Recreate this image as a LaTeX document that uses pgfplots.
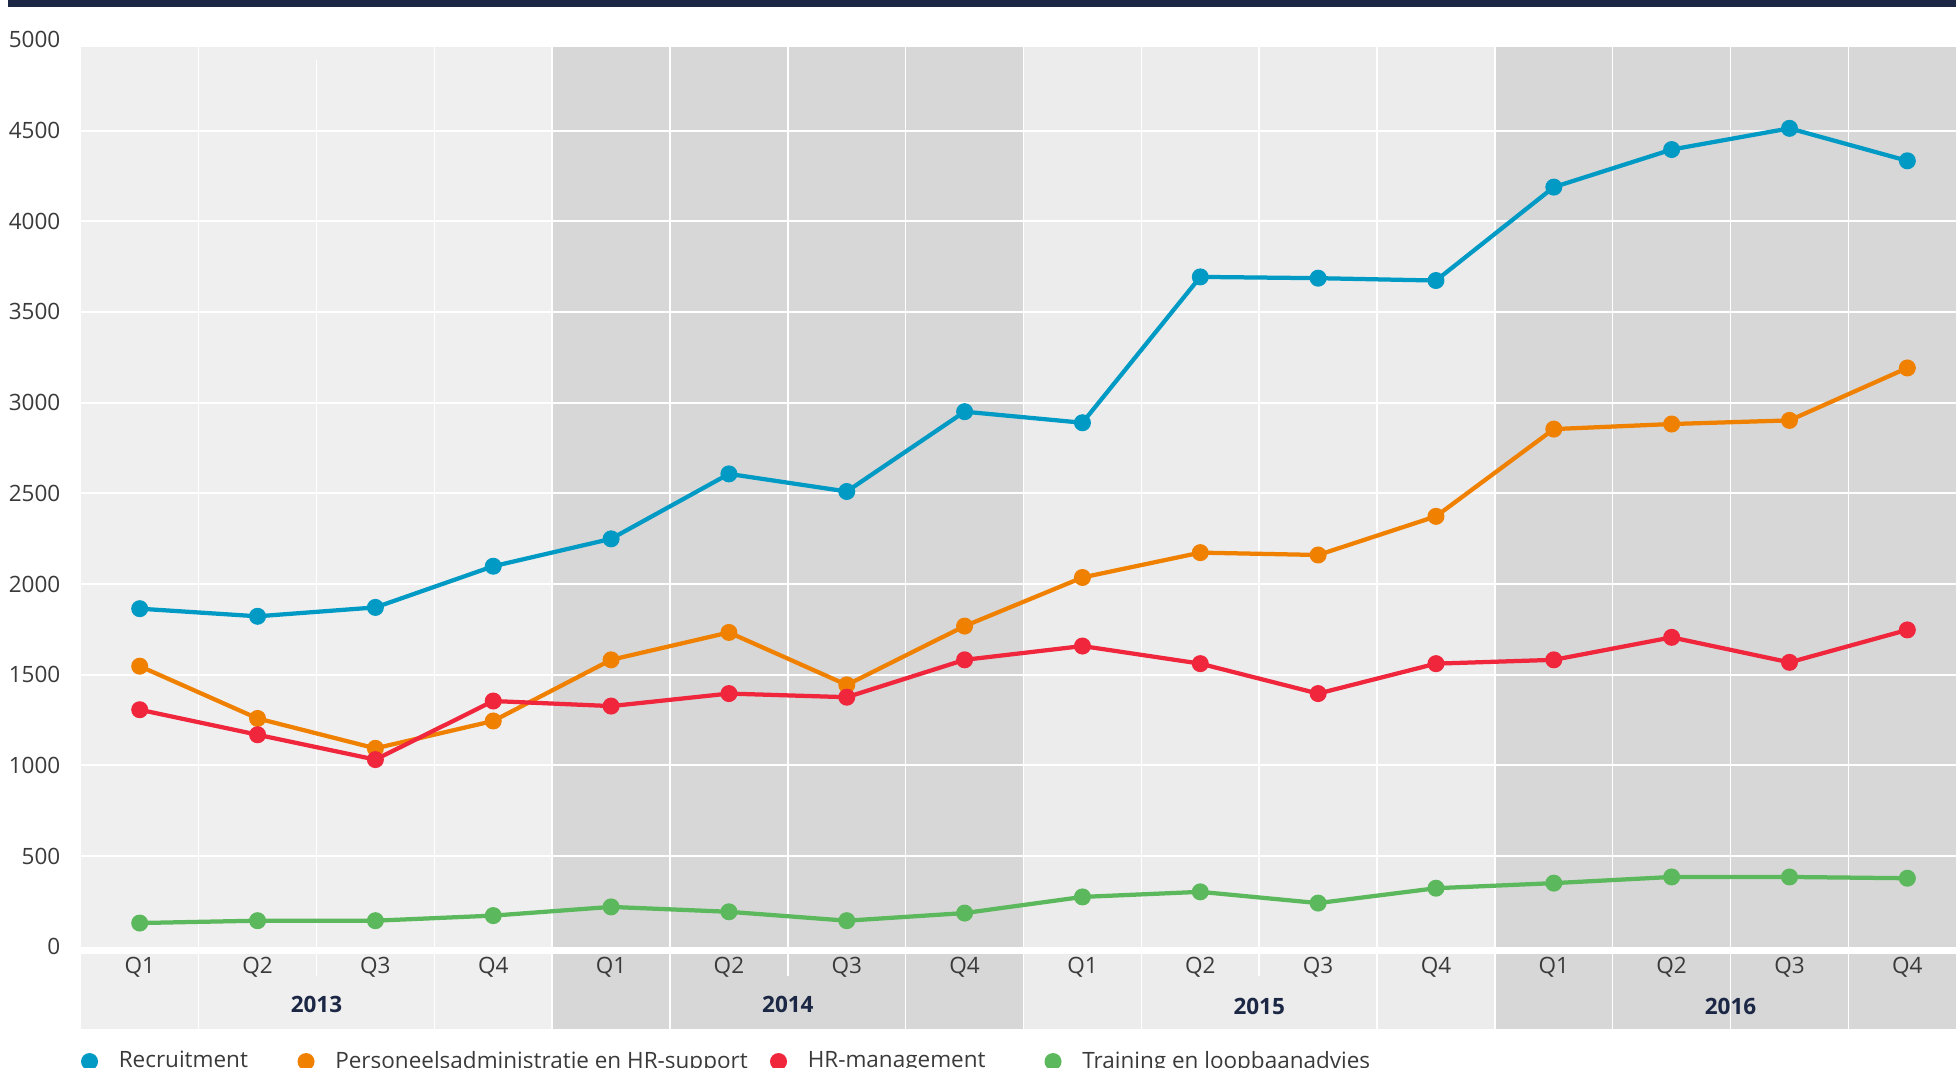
\documentclass[border=0pt]{standalone}
\usepackage{pgfplots}
\usepackage{pgfplotstable}
\pgfplotsset{compat=1.18}
\usepackage{fontspec}
\setmainfont{Open Sans}
\definecolor{cblue}{HTML}{009AC4}
\definecolor{corange}{HTML}{F08000}
\definecolor{cred}{HTML}{F0263C}
\definecolor{cgreen}{HTML}{5CB85C}
\definecolor{bglight}{HTML}{EFEFEF}
\definecolor{bglighttwo}{HTML}{ECECEC}
\definecolor{bgdark}{HTML}{D7D7D7}
\definecolor{navy}{HTML}{1B2744}
\definecolor{txt}{HTML}{3A3A3A}

\pgfplotstableread{
x rec pers hrm train
0 1864 1547 1307 131
1 1822 1259 1169 144
2 1871 1094 1032 144
3 2098 1245 1355 172
4 2249 1582 1327 220
5 2607 1733 1396 193
6 2510 1444 1376 144
7 2950 1768 1582 186
8 2889 2036 1658 275
9 3693 2173 1561 303
10 3686 2160 1396 241
11 3673 2373 1561 323
12 4188 2854 1582 351
13 4395 2882 1706 385
14 4512 2902 1568 385
15 4333 3191 1747 378
}\data

\newcommand{\lfont}{\fontsize{9}{10}\selectfont}

\begin{document}
\begin{tikzpicture}
\begin{axis}[
  at={(0,0)}, anchor=south west,
  scale only axis, width=750.08pt, height=362.8pt,
  xmin=-0.5, xmax=15.413, ymin=0, ymax=5000,
  clip=false, axis on top,
  axis line style={draw=none},
  tick style={draw=none},
  major tick length=0pt,
  ytick={0,500,...,5000},
  /pgf/number format/1000 sep={},
  /pgf/number format/assume math mode=true,
  yticklabel style={font=\lfont, text=txt, anchor=east, inner sep=0pt, xshift=-8pt},
  xtick={0,...,15},
  xticklabels={Q1,Q2,Q3,Q4,Q1,Q2,Q3,Q4,Q1,Q2,Q3,Q4,Q1,Q2,Q3,Q4},
  xticklabel style={font=\lfont, text=txt, anchor=center, inner sep=0pt, yshift=-8pt},
  legend columns=4,
  legend image code/.code={\draw[#1] plot coordinates {(0pt,0pt)};},
  legend style={at={(0,0)}, anchor=west, xshift=0.2pt, yshift=-45.9pt,
    draw=none, fill=none, inner sep=0pt,
    /tikz/every odd column/.style={column sep=8.6pt},
    /tikz/every even column/.style={column sep=0pt},
    nodes={inner sep=0pt, font=\lfont, text=txt}},
]
% plot background bands
\fill[bglight] (axis cs:-0.5,0) rectangle (axis cs:3.5,4960);
\fill[bgdark] (axis cs:3.5,0) rectangle (axis cs:7.5,4960);
\fill[bglighttwo] (axis cs:7.5,0) rectangle (axis cs:11.5,4960);
\fill[bgdark] (axis cs:11.5,0) rectangle (axis cs:15.8,4960);
% label bands
\fill[bglight] (axis cs:-0.5,-41) rectangle (axis cs:3.5,-453);
\fill[bgdark] (axis cs:3.5,-41) rectangle (axis cs:7.5,-453);
\fill[bglighttwo] (axis cs:7.5,-41) rectangle (axis cs:11.5,-453);
\fill[bgdark] (axis cs:11.5,-41) rectangle (axis cs:15.8,-453);
% grid
\pgfplotsinvokeforeach{500,1000,1500,2000,2500,3000,3500,4000,4500}{
  \draw[white, line width=0.8pt] (axis cs:-0.5,#1) -- (axis cs:15.8,#1);
}
\pgfplotsinvokeforeach{0.5,2.5,3.5,4.5,5.5,6.5,7.5,8.5,9.5,10.5,11.5,12.5,13.5,14.5}{
  \draw[white, line width=0.6pt] (axis cs:#1,0) -- (axis cs:#1,4960);
}
\draw[white, line width=0.6pt] (axis cs:1.5,0) -- (axis cs:1.5,4890);
\pgfplotsinvokeforeach{0.5,2.5,3.5,4.5,6.5,7.5,8.5,10.5,11.5,12.5,13.5,14.5}{
  \draw[white, line width=0.6pt] (axis cs:#1,-41) -- (axis cs:#1,-453);
}
\pgfplotsinvokeforeach{1.5,5.5,9.5}{
  \draw[white, line width=0.6pt] (axis cs:#1,-41) -- (axis cs:#1,-160);
}
% year labels
\node[font=\lfont\bfseries, text=navy] at (axis cs:1.5,-316) {2013};
\node[font=\lfont\bfseries, text=navy] at (axis cs:5.5,-316) {2014};
\node[font=\lfont\bfseries, text=navy] at (axis cs:9.5,-330) {2015};
\node[font=\lfont\bfseries, text=navy] at (axis cs:13.5,-330) {2016};

\addplot[cblue, line width=1.7pt, mark=*, mark size=3.1pt, mark options={line width=0.6pt}] table[x=x,y=rec]{\data};
\addlegendentry{\makebox[71.8pt][l]{Recruitment}}
\addplot[corange, line width=1.7pt, mark=*, mark size=3.1pt, mark options={line width=0.6pt}] table[x=x,y=pers]{\data};
\addlegendentry{\makebox[174.2pt][l]{Personeelsadministratie en HR-support}}
\addplot[cred, line width=1.7pt, mark=*, mark size=3.1pt, mark options={line width=0.6pt}] table[x=x,y=hrm]{\data};
\addlegendentry{\makebox[95pt][l]{HR-management}}
\addplot[cgreen, line width=1.7pt, mark=*, mark size=3.1pt, mark options={line width=0.6pt}] table[x=x,y=train]{\data};
\addlegendentry{Training en loopbaanadvies}
\end{axis}
\fill[navy] (-29.1pt,375.9pt) rectangle (752pt,380pt);
\pgfresetboundingbox
\useasboundingbox (-32.32pt,-48.08pt) rectangle (750.08pt,378.72pt);
\end{tikzpicture}
\end{document}
